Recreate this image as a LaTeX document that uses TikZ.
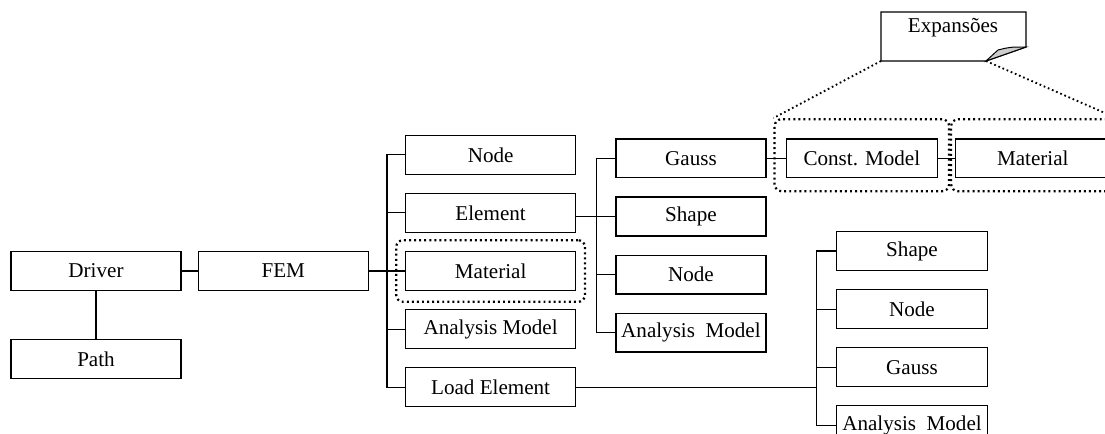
\documentclass[tikz,border=0pt]{standalone}
\usepackage{fontspec}
\setmainfont{Liberation Serif}
\usetikzlibrary{positioning,fit}
\tikzset{node distance=0.45cm,
  box/.style={draw, line width=0.9pt, minimum width=4.25cm, minimum height=0.97cm,
    inner sep=0pt, font=\fontsize{15}{18}\selectfont},
  sbox/.style={box, minimum width=3.75cm},
  link/.style={line width=0.8pt},
  dotframe/.style={draw, line width=1.6pt, dash pattern=on 1.4pt off 2.2pt,
    rounded corners=5pt},
  leader/.style={line width=1.3pt, dash pattern=on 1.2pt off 2pt}}

\begin{document}
\begin{tikzpicture}[x=0.025cm, y=-0.025cm]
  \useasboundingbox (0,0) rectangle (1105,434);
  \clip (0,0) rectangle (1105,434);

  % main chain
  \node[box] (Driver) at (96,271) {Driver};
  \node[box] (Path) [below=1.2cm of Driver] {Path};
  \node[box] (FEM) [right=0.4cm of Driver] {FEM};

  % FEM children
  \node[box] (Mat) [right=0.9cm of FEM] {Material};
  \node[box] (Elem) [above=of Mat] {Element};
  \node[box] (Node) [above=of Elem] {Node};
  \node[box] (AModel) [below=of Mat] {Analysis Model};
  \node[box] (Load) [below=of AModel] {Load Element};

  % Element children
  \node[sbox] (Shape) [right=0.975cm of Elem, yshift=-0.09cm] {Shape};
  \node[sbox] (Gauss) [above=of Shape] {Gauss};
  \node[sbox] (ENode) [below=of Shape] {Node};
  \node[sbox] (EModel) [below=of ENode] {Analysis~ Model};
  \node[box, minimum width=3.78cm] (Const) [right=0.475cm of Gauss] {Const. Model};
  \node[box, minimum width=3.85cm] (XMat) [right=0.425cm of Const] {Material};

  % Load Element children
  \node[sbox, minimum width=3.78cm] (LShape) at (912,251) {Shape};
  \node[sbox, minimum width=3.78cm] (LNode) [below=of LShape] {Node};
  \node[sbox, minimum width=3.78cm] (LGauss) [below=of LNode] {Gauss};
  \node[sbox, minimum width=3.78cm] (LModel) [below=of LGauss] {Analysis~ Model};

  % connectors
  \draw[link] (Driver) -- (FEM);
  \draw[link] (Driver) -- (Path);
  \draw[link] (FEM) -- (Mat);
  \draw[link] (Node.west) -- ++(-18,0) |- (Load.west);
  \foreach \n in {Elem,AModel}
    \draw[link] (\n.west) -- ++(-18,0);

  \draw[link] (Shape.west -| Elem.east) -- (Shape.west);
  \draw[link] (Gauss.west) -- ++(-19,0) |- (EModel.west);
  \draw[link] (ENode.west) -- ++(-19,0);
  \draw[link] (Gauss) -- (Const);
  \draw[link] (Const) -- (XMat);

  \draw[link] (LShape.west) -- ++(-19,0) coordinate (lt) |- (LModel.west);
  \foreach \n in {LNode,LGauss}
    \draw[link] (\n.west) -- ++(-19,0);
  \draw[link] (Load.east) -- (Load.east -| lt);

  % dotted frames
  \node[dotframe, fit=(Mat), inner xsep=0.22cm, inner ysep=0.27cm] (MatFrame) {};
  \node[dotframe, fit=(Const), inner xsep=0.275cm, inner ysep=0.4cm, yshift=0.08cm] (ConstFrame) {};
  \coordinate (XEnd) at (1125,160);
  \node[dotframe, fit=(XMat)(XEnd), inner xsep=0.1cm, inner ysep=0.4cm, yshift=0.08cm] (XFrame) {};

  % callout
  \draw[line width=0.9pt, fill=white] (881,61) coordinate (cbl) -- (881,12) -- (1026,12)
    -- (1026,47) coordinate (ctr) -- (986,61) coordinate (cfold) -- cycle;
  \filldraw[line width=0.7pt, fill=gray!40] (cfold) -- (998,50) .. controls (1010,47) .. (ctr) -- cycle;
  \node[font=\fontsize{15}{18}\selectfont] (Exp) at (953,28) {Expansões};
  \coordinate (XLead) at (1130,124);
  \draw[leader] (cbl) -- (ConstFrame.north west);
  \draw[leader] (cfold) -- (XLead);

\end{tikzpicture}
\end{document}
